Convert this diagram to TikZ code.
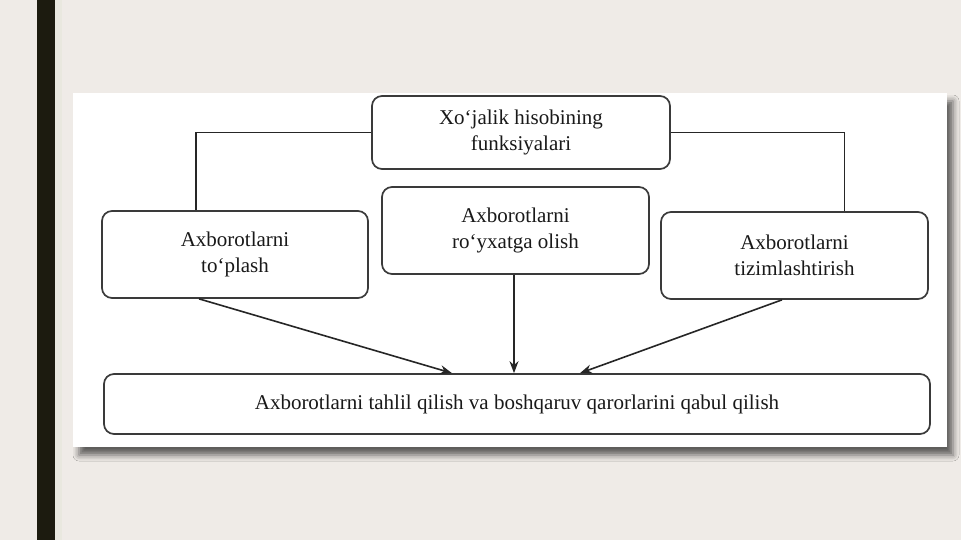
\documentclass[tikz,border=0pt]{standalone}
\usepackage{fontspec}
\setmainfont{Liberation Serif}
\usetikzlibrary{arrows.meta, shadows.blur}

\definecolor{slidebg}{HTML}{EFEBE7}
\definecolor{stripbg}{HTML}{E9E8DF}
\definecolor{darkbar}{HTML}{1C1B0F}
\definecolor{boxline}{HTML}{3A3A3A}

\begin{document}
\begin{tikzpicture}[x=1pt, y=-1pt,
    box/.style={draw=boxline, line width=1.7pt, rounded corners=10pt, fill=white,
        align=center, inner sep=0pt, text=black!90,
        font=\fontsize{21}{26}\selectfont},
    link/.style={draw=black!85, line width=1.6pt},
    flow/.style={link, -{Stealth[length=12pt, width=9pt]}}]
    % slide
    \fill [slidebg] (0,0) rectangle (961,540);
    \useasboundingbox (0,0) rectangle (961,540);
    \fill [stripbg] (55,0) rectangle (62,540);
    \fill [darkbar] (37,0) rectangle (55,540);
    \fill [white, blur shadow={shadow xshift=6pt, shadow yshift=-8pt,
        shadow blur radius=6pt, shadow opacity=60}]
        (73,93) rectangle (947,447);

    % boxes
    \node [box, minimum width=298, minimum height=73] (vazifa) at (521,132.5)
        {Xo‘jalik hisobining\\funksiyalari};
    \node [box, minimum width=266, minimum height=87] (toplash) at (235,254.5)
        {Axborotlarni\\to‘plash};
    \node [box, minimum width=267, minimum height=87] (royxat) at (515.5,230.5)
        {Axborotlarni\\ro‘yxatga olish};
    \node [box, minimum width=267, minimum height=87] (tizim) at (794.5,255.5)
        {Axborotlarni\\tizimlashtirish};
    \node [box, minimum width=826, minimum height=60] (tahlil) at (517,404)
        {\raisebox{3pt}{Axborotlarni tahlil qilish va boshqaruv qarorlarini qabul qilish}};

    % brackets from the top box
    \draw [link] (vazifa.west) -| ([xshift=-39pt]toplash.north)
        (vazifa.east) -| ([xshift=50pt]tizim.north);
    % arrows into the bottom box
    \draw [flow] ([xshift=-36pt]toplash.south) -- ([xshift=-65pt]tahlil.north);
    \draw [flow] ([xshift=-1.5pt]royxat.south) -- ([xshift=-3pt]tahlil.north);
    \draw [flow] ([xshift=-12.5pt]tizim.south) -- ([xshift=63pt]tahlil.north);
\end{tikzpicture}
\end{document}
